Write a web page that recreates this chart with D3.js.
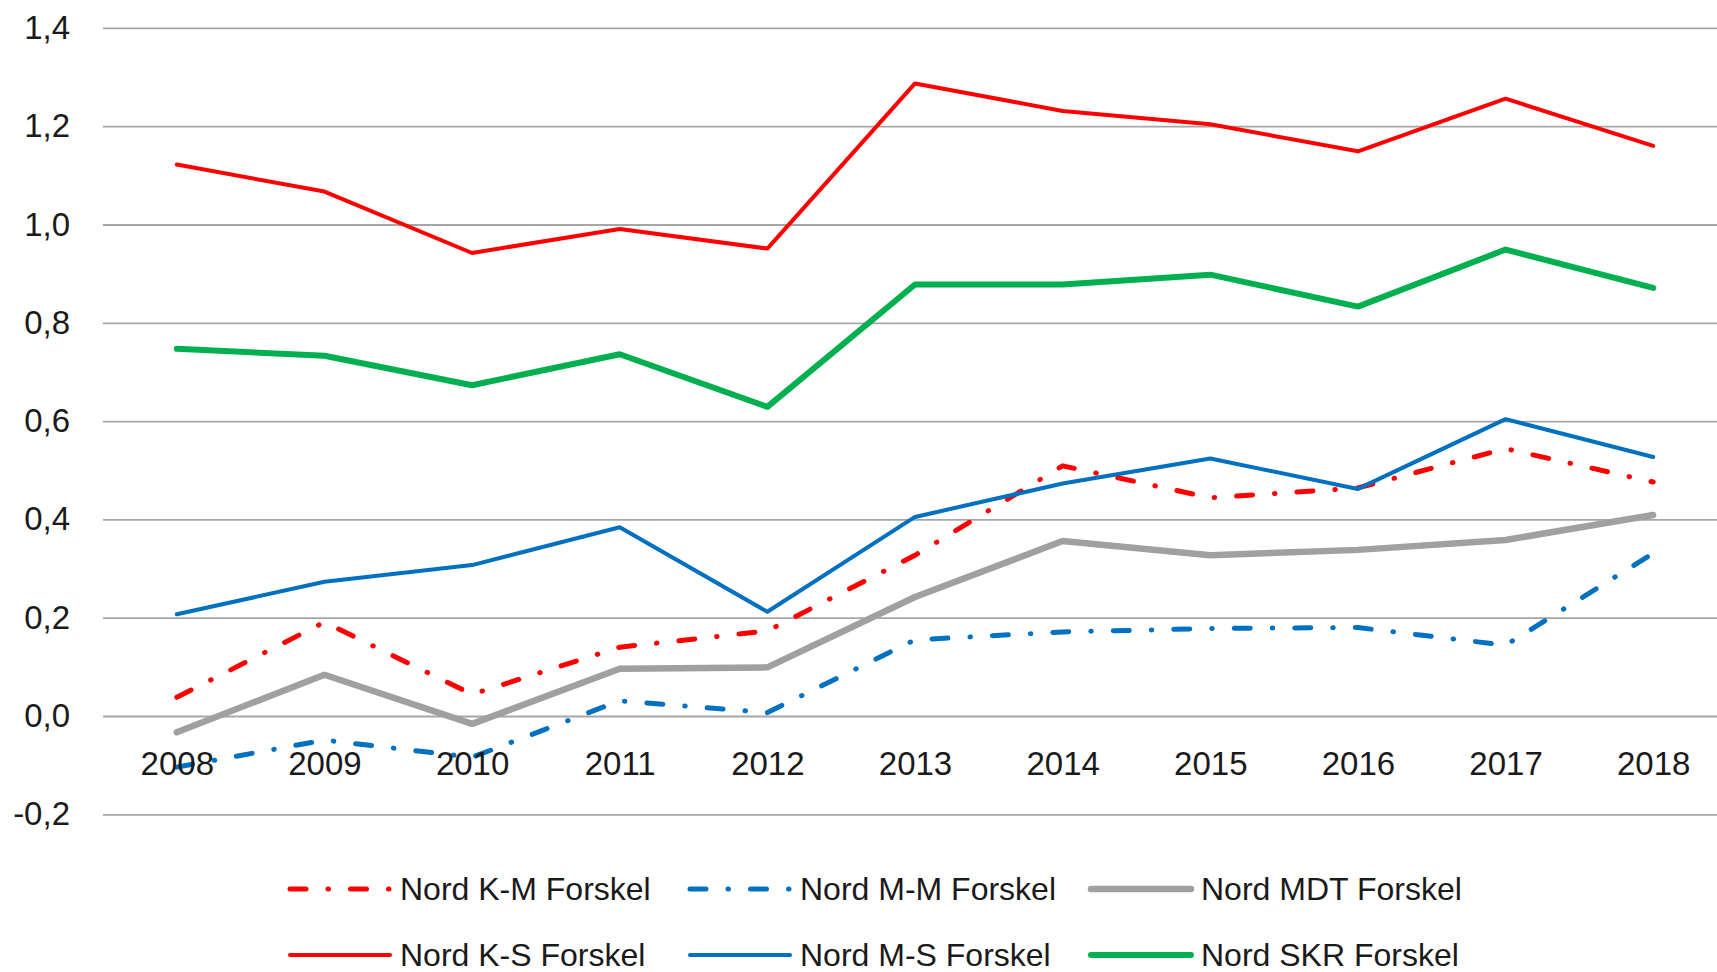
<!DOCTYPE html>
<html>
<head>
<meta charset="utf-8">
<script src="https://cdn.jsdelivr.net/npm/d3@7"></script>
<style>
  html, body { margin: 0; padding: 0; background: #fff; }
  svg { display: block; }
  text { font-family: "Liberation Sans", Arial, sans-serif; fill: #1a1a1a; }
</style>
</head>
<body>
<svg id="chart" width="1717" height="972"></svg>
<script>
const years = ["2008", "2009", "2010", "2011", "2012", "2013", "2014", "2015", "2016", "2017", "2018"];
const yTicks = [-0.2, 0, 0.2, 0.4, 0.6, 0.8, 1.0, 1.2, 1.4];

const seriesNames = ["Nord K-M Forskel", "Nord M-M Forskel", "Nord MDT Forskel",
                     "Nord K-S Forskel", "Nord M-S Forskel", "Nord SKR Forskel"];

const kmForskel  = [0.038, 0.191, 0.044, 0.140, 0.173, 0.327, 0.509, 0.444, 0.464, 0.544, 0.476];
const mmForskel  = [-0.104, -0.049, -0.084, 0.031, 0.007, 0.155, 0.171, 0.178, 0.180, 0.144, 0.331];
const mdtForskel = [-0.033, 0.084, -0.016, 0.096, 0.099, 0.242, 0.356, 0.327, 0.338, 0.358, 0.409];
const ksForskel  = [1.122, 1.067, 0.942, 0.991, 0.951, 1.287, 1.231, 1.204, 1.149, 1.256, 1.160];
const msForskel  = [0.207, 0.273, 0.307, 0.384, 0.212, 0.405, 0.473, 0.524, 0.462, 0.604, 0.527];
const skrForskel = [0.747, 0.733, 0.673, 0.736, 0.629, 0.878, 0.878, 0.898, 0.833, 0.949, 0.871];

const values = [kmForskel, mmForskel, mdtForskel, ksForskel, msForskel, skrForskel];

// styles per series (drawn in this order)
const styles = [
  {color: "#ff0000", width: 5,   dash: "16,22,0.5,22"},
  {color: "#0070c0", width: 5,   dash: "16,22,0.5,22"},
  {color: "#a0a0a0", width: 6.5, dash: null},
  {color: "#ff0000", width: 4,   dash: null},
  {color: "#0070c0", width: 4,   dash: null},
  {color: "#00b050", width: 6,   dash: null}
];

const svg = d3.select("#chart");
const margin = {left: 103, right: -10, top: 27.9, bottom: 157.7};
const W = 1717, H = 972;

const x = d3.scalePoint()
  .domain(years)
  .range([margin.left, W - margin.right])
  .padding(0.5);

const y = d3.scaleLinear()
  .domain([-0.2, 1.4])
  .range([H - margin.bottom, margin.top]);

const fmt = v => d3.format(".1f")(v).replace(".", ",").replace("\u2212", "-");

// y axis + gridlines
const yAxis = d3.axisLeft(y)
  .tickValues(yTicks)
  .tickFormat(fmt)
  .tickSize(-(W - margin.left))
  .tickPadding(33);

const gy = svg.append("g")
  .attr("transform", `translate(${margin.left},0)`)
  .call(yAxis);
gy.select(".domain").remove();
gy.selectAll(".tick line").attr("stroke", "#a6a6a6").attr("stroke-width", 1.8);
gy.selectAll(".tick text").attr("font-size", 33).attr("fill", "#1a1a1a");

// lines
const line = d3.line()
  .x((d, i) => x(years[i]))
  .y(d => y(d));

svg.append("g").selectAll("path")
  .data(values)
  .join("path")
  .attr("d", d => line(d))
  .attr("fill", "none")
  .attr("stroke", (d, i) => styles[i].color)
  .attr("stroke-width", (d, i) => styles[i].width)
  .attr("stroke-dasharray", (d, i) => styles[i].dash)
  .attr("stroke-linecap", "round")
  .attr("stroke-linejoin", "round");

// x axis labels (axis crosses at 0)
const xAxis = d3.axisBottom(x).tickSize(0).tickPadding(36);
const gx = svg.append("g")
  .attr("transform", `translate(0,${y(0)})`)
  .call(xAxis);
gx.select(".domain").remove();
gx.selectAll(".tick text").attr("font-size", 33).attr("fill", "#1a1a1a");

// legend, 3 columns x 2 rows
const legendCols = [290, 690, 1091];
const legendRows = [889, 955];

const legend = svg.append("g").selectAll("g")
  .data(seriesNames)
  .join("g")
  .attr("transform", (d, i) => `translate(${legendCols[i % 3]},${legendRows[Math.floor(i / 3)]})`);

legend.append("line")
  .attr("x1", 0).attr("x2", 100)
  .attr("y1", 0).attr("y2", 0)
  .attr("stroke", (d, i) => styles[i].color)
  .attr("stroke-width", (d, i) => styles[i].width)
  .attr("stroke-dasharray", (d, i) => styles[i].dash)
  .attr("stroke-linecap", "round");

legend.append("text")
  .attr("x", 110)
  .attr("y", 0)
  .attr("dy", "0.35em")
  .attr("font-size", 32)
  .text(d => d);
</script>
</body>
</html>
